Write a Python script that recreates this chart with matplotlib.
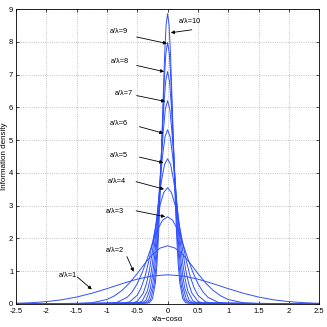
import matplotlib
matplotlib.use("Agg")
import matplotlib.pyplot as plt

# curves: one (x, y) list per a/lambda value
x1 = [-2.5, -2.25, -2.0, -1.75, -1.5, -1.25, -1.0, -0.75, -0.5, -0.25, 0.0,
      0.25, 0.5, 0.75, 1.0, 1.25, 1.5, 1.75, 2.0, 2.25, 2.5]
y1 = [0.015, 0.033, 0.066, 0.121, 0.206, 0.321, 0.462, 0.615, 0.753, 0.851, 0.886,
      0.851, 0.753, 0.615, 0.462, 0.321, 0.206, 0.121, 0.066, 0.033, 0.015]

x2 = [-2.5, -1.5, -1.25, -1.0, -0.875, -0.75, -0.625, -0.5, -0.375, -0.25, -0.125, 0.0,
      0.125, 0.25, 0.375, 0.5, 0.625, 0.75, 0.875, 1.0, 1.25, 1.5, 2.5]
y2 = [0.0, 0.005, 0.030, 0.131, 0.243, 0.411, 0.641, 0.925, 1.230, 1.506, 1.701, 1.772,
      1.701, 1.506, 1.230, 0.925, 0.641, 0.411, 0.243, 0.131, 0.030, 0.005, 0.0]

x3 = [-2.5, -1.0, -0.833, -0.667, -0.583, -0.5, -0.417, -0.333, -0.25, -0.167, -0.083, 0.0,
      0.083, 0.167, 0.25, 0.333, 0.417, 0.5, 0.583, 0.667, 0.833, 1.0, 2.5]
y3 = [0.0, 0.008, 0.045, 0.197, 0.364, 0.617, 0.963, 1.388, 1.845, 2.260, 2.553, 2.659,
      2.553, 2.260, 1.845, 1.388, 0.963, 0.617, 0.364, 0.197, 0.045, 0.008, 0.0]

x4 = [-2.5, -0.75, -0.625, -0.5, -0.4375, -0.375, -0.3125, -0.25, -0.1875, -0.125, -0.0625, 0.0,
      0.0625, 0.125, 0.1875, 0.25, 0.3125, 0.375, 0.4375, 0.5, 0.625, 0.75, 2.5]
y4 = [0.0, 0.011, 0.060, 0.262, 0.486, 0.822, 1.283, 1.850, 2.460, 3.013, 3.403, 3.545,
      3.403, 3.013, 2.460, 1.850, 1.283, 0.822, 0.486, 0.262, 0.060, 0.011, 0.0]

x5 = [-2.5, -0.6, -0.5, -0.4, -0.35, -0.3, -0.25, -0.2, -0.15, -0.1, -0.05, 0.0,
      0.05, 0.1, 0.15, 0.2, 0.25, 0.3, 0.35, 0.4, 0.5, 0.6, 2.5]
y5 = [0.0, 0.013, 0.075, 0.328, 0.607, 1.028, 1.604, 2.313, 3.075, 3.766, 4.254, 4.431,
      4.254, 3.766, 3.075, 2.313, 1.604, 1.028, 0.607, 0.328, 0.075, 0.013, 0.0]

x6 = [-2.5, -0.5, -0.417, -0.333, -0.292, -0.25, -0.208, -0.167, -0.125, -0.083, -0.042, 0.0,
      0.042, 0.083, 0.125, 0.167, 0.208, 0.25, 0.292, 0.333, 0.417, 0.5, 2.5]
y6 = [0.0, 0.016, 0.090, 0.393, 0.728, 1.234, 1.925, 2.775, 3.690, 4.519, 5.104, 5.317,
      5.104, 4.519, 3.690, 2.775, 1.925, 1.234, 0.728, 0.393, 0.090, 0.016, 0.0]

x7 = [-2.5, -0.429, -0.357, -0.286, -0.25, -0.214, -0.179, -0.143, -0.107, -0.071, -0.036, 0.0,
      0.036, 0.071, 0.107, 0.143, 0.179, 0.214, 0.25, 0.286, 0.357, 0.429, 2.5]
y7 = [0.0, 0.019, 0.105, 0.459, 0.850, 1.439, 2.246, 3.238, 4.306, 5.273, 5.956, 6.204,
      5.956, 5.273, 4.306, 3.238, 2.246, 1.439, 0.850, 0.459, 0.105, 0.019, 0.0]

x8 = [-2.5, -0.375, -0.3125, -0.25, -0.219, -0.1875, -0.156, -0.125, -0.094, -0.0625, -0.031, 0.0,
      0.031, 0.0625, 0.094, 0.125, 0.156, 0.1875, 0.219, 0.25, 0.3125, 0.375, 2.5]
y8 = [0.0, 0.021, 0.121, 0.525, 0.971, 1.645, 2.567, 3.701, 4.920, 6.027, 6.806, 7.090,
      6.806, 6.027, 4.920, 3.701, 2.567, 1.645, 0.971, 0.525, 0.121, 0.021, 0.0]

x9 = [-2.5, -0.333, -0.278, -0.222, -0.194, -0.167, -0.139, -0.111, -0.083, -0.056, -0.028, 0.0,
      0.028, 0.056, 0.083, 0.111, 0.139, 0.167, 0.194, 0.222, 0.278, 0.333, 2.5]
y9 = [0.0, 0.024, 0.136, 0.590, 1.093, 1.850, 2.887, 4.164, 5.535, 6.780, 7.657, 7.976,
      7.657, 6.780, 5.535, 4.164, 2.887, 1.850, 1.093, 0.590, 0.136, 0.024, 0.0]

x10 = [-2.5, -0.3, -0.25, -0.2, -0.175, -0.15, -0.125, -0.1, -0.075, -0.05, -0.025, 0.0,
       0.025, 0.05, 0.075, 0.1, 0.125, 0.15, 0.175, 0.2, 0.25, 0.3, 2.5]
y10 = [0.0, 0.027, 0.151, 0.656, 1.214, 2.056, 3.208, 4.626, 6.150, 7.533, 8.508, 8.862,
       8.508, 7.533, 6.150, 4.626, 3.208, 2.056, 1.214, 0.656, 0.151, 0.027, 0.0]

# labels: text position, arrow tail, arrow head
labels = ["a/λ=1", "a/λ=2", "a/λ=3", "a/λ=4", "a/λ=5",
          "a/λ=6", "a/λ=7", "a/λ=8", "a/λ=9", "a/λ=10"]
label_xy = [(-1.64, 0.85), (-0.87, 1.62), (-0.87, 2.83), (-0.83, 3.75), (-0.80, 4.54),
            (-0.80, 5.52), (-0.73, 6.43), (-0.78, 7.40), (-0.80, 8.32), (0.37, 8.62)]
tail_xy = [(-1.49, 0.82), (-0.67, 1.44), (-0.52, 2.84), (-0.52, 3.73), (-0.465, 4.48),
           (-0.465, 5.41), (-0.51, 6.36), (-0.51, 7.28), (-0.51, 8.15), (0.40, 8.37)]
head_xy = [(-1.25, 0.44), (-0.56, 0.98), (-0.04, 2.66), (-0.058, 3.50), (-0.07, 4.31),
           (-0.07, 5.21), (-0.04, 6.18), (-0.058, 7.09), (-0.01, 7.95), (0.053, 8.28)]

plt.rcParams["font.family"] = ["Liberation Sans", "DejaVu Sans"]
plt.rcParams["axes.unicode_minus"] = False

fig = plt.figure(figsize=(3.27, 3.27), dpi=100)
ax = fig.add_axes([0.049, 0.071, 0.927, 0.901])

curves = [(x1, y1), (x2, y2), (x3, y3), (x4, y4), (x5, y5),
          (x6, y6), (x7, y7), (x8, y8), (x9, y9), (x10, y10)]
for xs, ys in curves:
    ax.plot(xs, ys, color="#2f4fff", lw=0.7)

for lab, t, a, h in zip(labels, label_xy, tail_xy, head_xy):
    ax.text(t[0], t[1], lab, fontsize=5.3, ha="center", va="center")
    ax.annotate("", xy=h, xytext=a,
                arrowprops=dict(arrowstyle="-|>", color="k", lw=0.6,
                                mutation_scale=5, shrinkA=0, shrinkB=0))

ax.set_xlim(-2.5, 2.5)
ax.set_ylim(0, 9)
ax.set_xticks([-2.5, -2, -1.5, -1, -0.5, 0, 0.5, 1, 1.5, 2, 2.5])
ax.set_xticklabels(["-2.5", "-2", "-1.5", "-1", "-0.5", "0", "0.5", "1", "1.5", "2", "2.5"])
ax.set_yticks(range(10))
ax.grid(True, linestyle=":", color="#b0b0b0", lw=0.6)
ax.tick_params(direction="in", top=True, right=True, length=2, width=0.5,
               labelsize=5.5)
ax.tick_params(axis="x", pad=3)
ax.tick_params(axis="y", pad=2)
for s in ax.spines.values():
    s.set_linewidth(0.6)

ax.set_xlabel("x/a−cosα", fontsize=5.5, labelpad=1)
ax.set_ylabel("Information density", fontsize=5.8, labelpad=1)

fig.savefig("out.png", dpi=100)
